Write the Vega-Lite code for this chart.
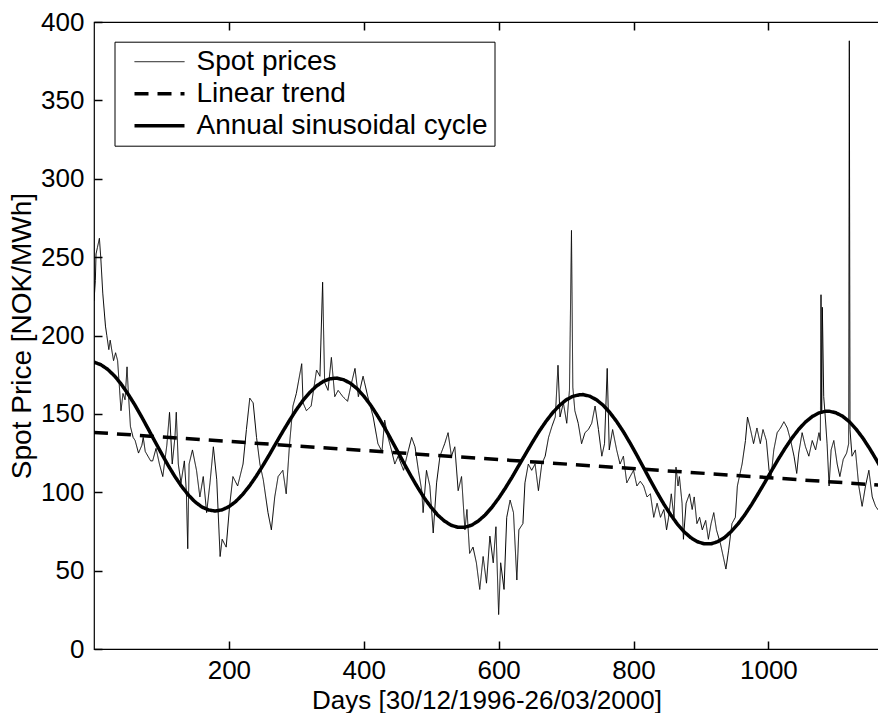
{
  "$schema": "https://vega.github.io/schema/vega-lite/v6.json",
  "width": 785,
  "height": 627,
  "autosize": {"type": "none"},
  "padding": {"left": 94, "top": 22, "right": 0, "bottom": 64},
  "background": "white",
  "config": {
    "font": "Liberation Sans",
    "view": {"stroke": "#000", "strokeWidth": 1.2},
    "axis": {
      "labelFont": "Liberation Sans", "titleFont": "Liberation Sans",
      "labelFontSize": 26, "titleFontSize": 26,
      "labelColor": "#000", "titleColor": "#000", "titleFontWeight": "normal",
      "grid": false, "domain": false, "tickColor": "#000", "tickWidth": 1.5, "tickSize": -8, "zindex": 1
    },
    "legend": {"labelFont": "Liberation Sans", "labelFontSize": 28, "labelColor": "#000"}
  },
  "resolve": {"axis": {"x": "independent"}},
  "layer": [
    {
      "data": {"values": [
        {"s":"Spot prices","d":0,"v":222},{"s":"Spot prices","d":2,"v":235},{"s":"Spot prices","d":3,"v":252},{"s":"Spot prices","d":5,"v":256},{"s":"Spot prices","d":8,"v":262},{"s":"Spot prices","d":10,"v":250},{"s":"Spot prices","d":13,"v":227},{"s":"Spot prices","d":17,"v":206},{"s":"Spot prices","d":19,"v":200},{"s":"Spot prices","d":22,"v":191},{"s":"Spot prices","d":24,"v":197},{"s":"Spot prices","d":27,"v":189},{"s":"Spot prices","d":29,"v":184},{"s":"Spot prices","d":32,"v":189},{"s":"Spot prices","d":35,"v":184},{"s":"Spot prices","d":38,"v":165},{"s":"Spot prices","d":40,"v":152},{"s":"Spot prices","d":43,"v":163},{"s":"Spot prices","d":46,"v":159},{"s":"Spot prices","d":49,"v":180},{"s":"Spot prices","d":51,"v":163},{"s":"Spot prices","d":54,"v":142},{"s":"Spot prices","d":58,"v":135},{"s":"Spot prices","d":61,"v":133},{"s":"Spot prices","d":66,"v":125},{"s":"Spot prices","d":71,"v":130},{"s":"Spot prices","d":73,"v":135},{"s":"Spot prices","d":76,"v":126},{"s":"Spot prices","d":80,"v":123},{"s":"Spot prices","d":84,"v":120},{"s":"Spot prices","d":87,"v":120},{"s":"Spot prices","d":92,"v":128},{"s":"Spot prices","d":97,"v":118},{"s":"Spot prices","d":102,"v":110},{"s":"Spot prices","d":108,"v":130},{"s":"Spot prices","d":112,"v":151},{"s":"Spot prices","d":116,"v":118},{"s":"Spot prices","d":120,"v":135},{"s":"Spot prices","d":122,"v":151},{"s":"Spot prices","d":125,"v":118},{"s":"Spot prices","d":129,"v":106},{"s":"Spot prices","d":134,"v":120},{"s":"Spot prices","d":137,"v":100},{"s":"Spot prices","d":139,"v":64},{"s":"Spot prices","d":141,"v":118},{"s":"Spot prices","d":146,"v":127},{"s":"Spot prices","d":152,"v":114},{"s":"Spot prices","d":157,"v":97},{"s":"Spot prices","d":162,"v":110},{"s":"Spot prices","d":167,"v":87},{"s":"Spot prices","d":172,"v":106},{"s":"Spot prices","d":177,"v":129},{"s":"Spot prices","d":182,"v":108},{"s":"Spot prices","d":187,"v":59},{"s":"Spot prices","d":190,"v":70},{"s":"Spot prices","d":196,"v":65},{"s":"Spot prices","d":201,"v":91},{"s":"Spot prices","d":206,"v":110},{"s":"Spot prices","d":213,"v":104},{"s":"Spot prices","d":221,"v":118},{"s":"Spot prices","d":226,"v":140},{"s":"Spot prices","d":231,"v":160},{"s":"Spot prices","d":236,"v":157},{"s":"Spot prices","d":241,"v":135},{"s":"Spot prices","d":246,"v":118},{"s":"Spot prices","d":251,"v":108},{"s":"Spot prices","d":258,"v":87},{"s":"Spot prices","d":263,"v":76},{"s":"Spot prices","d":268,"v":97},{"s":"Spot prices","d":273,"v":110},{"s":"Spot prices","d":280,"v":114},{"s":"Spot prices","d":285,"v":99},{"s":"Spot prices","d":290,"v":131},{"s":"Spot prices","d":295,"v":155},{"s":"Spot prices","d":300,"v":163},{"s":"Spot prices","d":308,"v":182},{"s":"Spot prices","d":310,"v":157},{"s":"Spot prices","d":315,"v":152},{"s":"Spot prices","d":322,"v":155},{"s":"Spot prices","d":330,"v":178},{"s":"Spot prices","d":335,"v":174},{"s":"Spot prices","d":339,"v":234},{"s":"Spot prices","d":342,"v":170},{"s":"Spot prices","d":347,"v":165},{"s":"Spot prices","d":352,"v":186},{"s":"Spot prices","d":357,"v":161},{"s":"Spot prices","d":362,"v":165},{"s":"Spot prices","d":369,"v":161},{"s":"Spot prices","d":376,"v":158},{"s":"Spot prices","d":382,"v":170},{"s":"Spot prices","d":387,"v":179},{"s":"Spot prices","d":392,"v":161},{"s":"Spot prices","d":399,"v":174},{"s":"Spot prices","d":406,"v":161},{"s":"Spot prices","d":414,"v":148},{"s":"Spot prices","d":421,"v":131},{"s":"Spot prices","d":427,"v":126},{"s":"Spot prices","d":431,"v":146},{"s":"Spot prices","d":436,"v":135},{"s":"Spot prices","d":441,"v":127},{"s":"Spot prices","d":446,"v":118},{"s":"Spot prices","d":451,"v":123},{"s":"Spot prices","d":459,"v":114},{"s":"Spot prices","d":464,"v":123},{"s":"Spot prices","d":471,"v":135},{"s":"Spot prices","d":476,"v":129},{"s":"Spot prices","d":481,"v":114},{"s":"Spot prices","d":486,"v":101},{"s":"Spot prices","d":488,"v":87},{"s":"Spot prices","d":493,"v":114},{"s":"Spot prices","d":498,"v":104},{"s":"Spot prices","d":503,"v":74},{"s":"Spot prices","d":508,"v":106},{"s":"Spot prices","d":513,"v":123},{"s":"Spot prices","d":520,"v":131},{"s":"Spot prices","d":525,"v":138},{"s":"Spot prices","d":530,"v":123},{"s":"Spot prices","d":535,"v":129},{"s":"Spot prices","d":540,"v":101},{"s":"Spot prices","d":545,"v":110},{"s":"Spot prices","d":550,"v":76},{"s":"Spot prices","d":553,"v":89},{"s":"Spot prices","d":557,"v":61},{"s":"Spot prices","d":562,"v":65},{"s":"Spot prices","d":567,"v":55},{"s":"Spot prices","d":572,"v":38},{"s":"Spot prices","d":577,"v":59},{"s":"Spot prices","d":582,"v":42},{"s":"Spot prices","d":587,"v":72},{"s":"Spot prices","d":592,"v":55},{"s":"Spot prices","d":596,"v":78},{"s":"Spot prices","d":600,"v":22},{"s":"Spot prices","d":603,"v":55},{"s":"Spot prices","d":608,"v":38},{"s":"Spot prices","d":612,"v":84},{"s":"Spot prices","d":617,"v":95},{"s":"Spot prices","d":622,"v":87},{"s":"Spot prices","d":627,"v":44},{"s":"Spot prices","d":630,"v":76},{"s":"Spot prices","d":636,"v":80},{"s":"Spot prices","d":639,"v":106},{"s":"Spot prices","d":644,"v":118},{"s":"Spot prices","d":649,"v":114},{"s":"Spot prices","d":654,"v":118},{"s":"Spot prices","d":659,"v":101},{"s":"Spot prices","d":664,"v":118},{"s":"Spot prices","d":669,"v":123},{"s":"Spot prices","d":674,"v":135},{"s":"Spot prices","d":679,"v":142},{"s":"Spot prices","d":684,"v":148},{"s":"Spot prices","d":688,"v":181},{"s":"Spot prices","d":691,"v":148},{"s":"Spot prices","d":696,"v":157},{"s":"Spot prices","d":701,"v":144},{"s":"Spot prices","d":705,"v":165},{"s":"Spot prices","d":708,"v":267},{"s":"Spot prices","d":710,"v":167},{"s":"Spot prices","d":713,"v":152},{"s":"Spot prices","d":718,"v":144},{"s":"Spot prices","d":723,"v":131},{"s":"Spot prices","d":728,"v":138},{"s":"Spot prices","d":733,"v":140},{"s":"Spot prices","d":738,"v":144},{"s":"Spot prices","d":743,"v":155},{"s":"Spot prices","d":748,"v":140},{"s":"Spot prices","d":753,"v":123},{"s":"Spot prices","d":757,"v":131},{"s":"Spot prices","d":761,"v":179},{"s":"Spot prices","d":764,"v":127},{"s":"Spot prices","d":769,"v":140},{"s":"Spot prices","d":775,"v":127},{"s":"Spot prices","d":780,"v":118},{"s":"Spot prices","d":785,"v":123},{"s":"Spot prices","d":790,"v":106},{"s":"Spot prices","d":795,"v":110},{"s":"Spot prices","d":800,"v":114},{"s":"Spot prices","d":805,"v":104},{"s":"Spot prices","d":810,"v":107},{"s":"Spot prices","d":815,"v":104},{"s":"Spot prices","d":820,"v":97},{"s":"Spot prices","d":825,"v":99},{"s":"Spot prices","d":830,"v":84},{"s":"Spot prices","d":835,"v":93},{"s":"Spot prices","d":840,"v":84},{"s":"Spot prices","d":845,"v":89},{"s":"Spot prices","d":849,"v":76},{"s":"Spot prices","d":852,"v":84},{"s":"Spot prices","d":856,"v":99},{"s":"Spot prices","d":860,"v":84},{"s":"Spot prices","d":863,"v":116},{"s":"Spot prices","d":866,"v":104},{"s":"Spot prices","d":868,"v":110},{"s":"Spot prices","d":872,"v":93},{"s":"Spot prices","d":874,"v":70},{"s":"Spot prices","d":878,"v":93},{"s":"Spot prices","d":883,"v":99},{"s":"Spot prices","d":887,"v":89},{"s":"Spot prices","d":890,"v":97},{"s":"Spot prices","d":894,"v":80},{"s":"Spot prices","d":898,"v":84},{"s":"Spot prices","d":902,"v":76},{"s":"Spot prices","d":907,"v":82},{"s":"Spot prices","d":911,"v":70},{"s":"Spot prices","d":915,"v":80},{"s":"Spot prices","d":919,"v":87},{"s":"Spot prices","d":923,"v":76},{"s":"Spot prices","d":929,"v":67},{"s":"Spot prices","d":934,"v":57},{"s":"Spot prices","d":937,"v":51},{"s":"Spot prices","d":941,"v":63},{"s":"Spot prices","d":946,"v":80},{"s":"Spot prices","d":951,"v":84},{"s":"Spot prices","d":954,"v":104},{"s":"Spot prices","d":957,"v":110},{"s":"Spot prices","d":961,"v":118},{"s":"Spot prices","d":966,"v":133},{"s":"Spot prices","d":969,"v":148},{"s":"Spot prices","d":973,"v":141},{"s":"Spot prices","d":978,"v":131},{"s":"Spot prices","d":983,"v":141},{"s":"Spot prices","d":988,"v":131},{"s":"Spot prices","d":992,"v":140},{"s":"Spot prices","d":997,"v":133},{"s":"Spot prices","d":1001,"v":114},{"s":"Spot prices","d":1004,"v":110},{"s":"Spot prices","d":1008,"v":127},{"s":"Spot prices","d":1013,"v":138},{"s":"Spot prices","d":1018,"v":141},{"s":"Spot prices","d":1023,"v":145},{"s":"Spot prices","d":1028,"v":141},{"s":"Spot prices","d":1033,"v":133},{"s":"Spot prices","d":1038,"v":123},{"s":"Spot prices","d":1042,"v":112},{"s":"Spot prices","d":1045,"v":125},{"s":"Spot prices","d":1050,"v":138},{"s":"Spot prices","d":1055,"v":129},{"s":"Spot prices","d":1060,"v":123},{"s":"Spot prices","d":1065,"v":133},{"s":"Spot prices","d":1070,"v":127},{"s":"Spot prices","d":1075,"v":138},{"s":"Spot prices","d":1077,"v":133},{"s":"Spot prices","d":1078,"v":226},{"s":"Spot prices","d":1079,"v":150},{"s":"Spot prices","d":1080,"v":218},{"s":"Spot prices","d":1082,"v":161},{"s":"Spot prices","d":1084,"v":150},{"s":"Spot prices","d":1087,"v":131},{"s":"Spot prices","d":1090,"v":104},{"s":"Spot prices","d":1093,"v":127},{"s":"Spot prices","d":1097,"v":133},{"s":"Spot prices","d":1102,"v":118},{"s":"Spot prices","d":1106,"v":110},{"s":"Spot prices","d":1111,"v":121},{"s":"Spot prices","d":1116,"v":125},{"s":"Spot prices","d":1119,"v":131},{"s":"Spot prices","d":1120,"v":388},{"s":"Spot prices","d":1121,"v":140},{"s":"Spot prices","d":1124,"v":123},{"s":"Spot prices","d":1129,"v":127},{"s":"Spot prices","d":1134,"v":104},{"s":"Spot prices","d":1139,"v":91},{"s":"Spot prices","d":1144,"v":104},{"s":"Spot prices","d":1149,"v":114},{"s":"Spot prices","d":1154,"v":97},{"s":"Spot prices","d":1159,"v":91},{"s":"Spot prices","d":1164,"v":88},{"s":"Spot prices","d":1170,"v":86},
        {"s":"Linear trend","d":0,"v":138.2},{"s":"Linear trend","d":1170,"v":104.4},
        {"s":"Annual sinusoidal cycle","d":0,"v":183.0},{"s":"Annual sinusoidal cycle","d":10,"v":181.4},{"s":"Annual sinusoidal cycle","d":20,"v":178.5},{"s":"Annual sinusoidal cycle","d":30,"v":174.4},{"s":"Annual sinusoidal cycle","d":40,"v":169.2},{"s":"Annual sinusoidal cycle","d":50,"v":163.0},{"s":"Annual sinusoidal cycle","d":60,"v":156.1},{"s":"Annual sinusoidal cycle","d":70,"v":148.6},{"s":"Annual sinusoidal cycle","d":80,"v":140.7},{"s":"Annual sinusoidal cycle","d":90,"v":132.7},{"s":"Annual sinusoidal cycle","d":100,"v":124.8},{"s":"Annual sinusoidal cycle","d":110,"v":117.1},{"s":"Annual sinusoidal cycle","d":120,"v":110.0},{"s":"Annual sinusoidal cycle","d":130,"v":103.7},{"s":"Annual sinusoidal cycle","d":140,"v":98.2},{"s":"Annual sinusoidal cycle","d":150,"v":93.8},{"s":"Annual sinusoidal cycle","d":160,"v":90.6},{"s":"Annual sinusoidal cycle","d":170,"v":88.7},{"s":"Annual sinusoidal cycle","d":180,"v":88.0},{"s":"Annual sinusoidal cycle","d":190,"v":88.8},{"s":"Annual sinusoidal cycle","d":200,"v":90.8},{"s":"Annual sinusoidal cycle","d":210,"v":94.0},{"s":"Annual sinusoidal cycle","d":220,"v":98.4},{"s":"Annual sinusoidal cycle","d":230,"v":103.7},{"s":"Annual sinusoidal cycle","d":240,"v":109.9},{"s":"Annual sinusoidal cycle","d":250,"v":116.7},{"s":"Annual sinusoidal cycle","d":260,"v":123.9},{"s":"Annual sinusoidal cycle","d":270,"v":131.4},{"s":"Annual sinusoidal cycle","d":280,"v":138.8},{"s":"Annual sinusoidal cycle","d":290,"v":145.9},{"s":"Annual sinusoidal cycle","d":300,"v":152.6},{"s":"Annual sinusoidal cycle","d":310,"v":158.6},{"s":"Annual sinusoidal cycle","d":320,"v":163.7},{"s":"Annual sinusoidal cycle","d":330,"v":167.8},{"s":"Annual sinusoidal cycle","d":340,"v":170.7},{"s":"Annual sinusoidal cycle","d":350,"v":172.4},
        {"s":"Annual sinusoidal cycle","d":360,"v":172.8},{"s":"Annual sinusoidal cycle","d":370,"v":171.8},{"s":"Annual sinusoidal cycle","d":380,"v":169.6},{"s":"Annual sinusoidal cycle","d":390,"v":166.1},{"s":"Annual sinusoidal cycle","d":400,"v":161.4},{"s":"Annual sinusoidal cycle","d":410,"v":155.7},{"s":"Annual sinusoidal cycle","d":420,"v":149.1},{"s":"Annual sinusoidal cycle","d":430,"v":141.9},{"s":"Annual sinusoidal cycle","d":440,"v":134.1},{"s":"Annual sinusoidal cycle","d":450,"v":126.2},{"s":"Annual sinusoidal cycle","d":460,"v":118.2},{"s":"Annual sinusoidal cycle","d":470,"v":110.4},{"s":"Annual sinusoidal cycle","d":480,"v":103.0},{"s":"Annual sinusoidal cycle","d":490,"v":96.2},{"s":"Annual sinusoidal cycle","d":500,"v":90.3},{"s":"Annual sinusoidal cycle","d":510,"v":85.3},{"s":"Annual sinusoidal cycle","d":520,"v":81.5},{"s":"Annual sinusoidal cycle","d":530,"v":78.9},{"s":"Annual sinusoidal cycle","d":540,"v":77.6},{"s":"Annual sinusoidal cycle","d":550,"v":77.7},{"s":"Annual sinusoidal cycle","d":560,"v":79.0},{"s":"Annual sinusoidal cycle","d":570,"v":81.7},{"s":"Annual sinusoidal cycle","d":580,"v":85.5},{"s":"Annual sinusoidal cycle","d":590,"v":90.4},{"s":"Annual sinusoidal cycle","d":600,"v":96.2},{"s":"Annual sinusoidal cycle","d":610,"v":102.7},{"s":"Annual sinusoidal cycle","d":620,"v":109.7},{"s":"Annual sinusoidal cycle","d":630,"v":117.1},{"s":"Annual sinusoidal cycle","d":640,"v":124.5},{"s":"Annual sinusoidal cycle","d":650,"v":131.8},{"s":"Annual sinusoidal cycle","d":660,"v":138.8},{"s":"Annual sinusoidal cycle","d":670,"v":145.1},{"s":"Annual sinusoidal cycle","d":680,"v":150.7},{"s":"Annual sinusoidal cycle","d":690,"v":155.3},{"s":"Annual sinusoidal cycle","d":700,"v":158.9},{"s":"Annual sinusoidal cycle","d":710,"v":161.2},{"s":"Annual sinusoidal cycle","d":720,"v":162.2},
        {"s":"Annual sinusoidal cycle","d":725,"v":162.3},{"s":"Annual sinusoidal cycle","d":735,"v":161.3},{"s":"Annual sinusoidal cycle","d":745,"v":159.0},{"s":"Annual sinusoidal cycle","d":755,"v":155.5},{"s":"Annual sinusoidal cycle","d":765,"v":150.8},{"s":"Annual sinusoidal cycle","d":775,"v":145.1},{"s":"Annual sinusoidal cycle","d":785,"v":138.6},{"s":"Annual sinusoidal cycle","d":795,"v":131.3},{"s":"Annual sinusoidal cycle","d":805,"v":123.6},{"s":"Annual sinusoidal cycle","d":815,"v":115.6},{"s":"Annual sinusoidal cycle","d":825,"v":107.6},{"s":"Annual sinusoidal cycle","d":835,"v":99.8},{"s":"Annual sinusoidal cycle","d":845,"v":92.4},{"s":"Annual sinusoidal cycle","d":855,"v":85.7},{"s":"Annual sinusoidal cycle","d":865,"v":79.7},{"s":"Annual sinusoidal cycle","d":875,"v":74.8},{"s":"Annual sinusoidal cycle","d":885,"v":71.0},{"s":"Annual sinusoidal cycle","d":895,"v":68.4},{"s":"Annual sinusoidal cycle","d":905,"v":67.1},{"s":"Annual sinusoidal cycle","d":915,"v":67.1},{"s":"Annual sinusoidal cycle","d":925,"v":68.5},{"s":"Annual sinusoidal cycle","d":935,"v":71.1},{"s":"Annual sinusoidal cycle","d":945,"v":75.0},{"s":"Annual sinusoidal cycle","d":955,"v":79.8},{"s":"Annual sinusoidal cycle","d":965,"v":85.6},{"s":"Annual sinusoidal cycle","d":975,"v":92.1},{"s":"Annual sinusoidal cycle","d":985,"v":99.2},{"s":"Annual sinusoidal cycle","d":995,"v":106.5},{"s":"Annual sinusoidal cycle","d":1005,"v":114.0},{"s":"Annual sinusoidal cycle","d":1015,"v":121.3},{"s":"Annual sinusoidal cycle","d":1025,"v":128.2},{"s":"Annual sinusoidal cycle","d":1035,"v":134.6},{"s":"Annual sinusoidal cycle","d":1045,"v":140.2},{"s":"Annual sinusoidal cycle","d":1055,"v":144.8},{"s":"Annual sinusoidal cycle","d":1065,"v":148.3},{"s":"Annual sinusoidal cycle","d":1075,"v":150.6},{"s":"Annual sinusoidal cycle","d":1085,"v":151.7},
        {"s":"Annual sinusoidal cycle","d":1090,"v":151.7},{"s":"Annual sinusoidal cycle","d":1100,"v":150.7},{"s":"Annual sinusoidal cycle","d":1110,"v":148.5},{"s":"Annual sinusoidal cycle","d":1120,"v":145.0},{"s":"Annual sinusoidal cycle","d":1130,"v":140.3},{"s":"Annual sinusoidal cycle","d":1140,"v":134.6},{"s":"Annual sinusoidal cycle","d":1150,"v":128.0},{"s":"Annual sinusoidal cycle","d":1160,"v":120.8},{"s":"Annual sinusoidal cycle","d":1170,"v":113.1}
      ]},
      "mark": {"type": "line", "clip": true},
      "encoding": {
        "x": {"field": "d", "type": "quantitative", "scale": {"domain": [0, 1164], "nice": false, "zero": false},
              "axis": {"orient": "bottom", "values": [200, 400, 600, 800, 1000], "format": "d", "title": "Days [30/12/1996-26/03/2000]", "labelPadding": 16.5, "titleY": 38}},
        "y": {"field": "v", "type": "quantitative", "scale": {"domain": [0, 400], "nice": false},
              "axis": {"values": [0, 50, 100, 150, 200, 250, 300, 350, 400], "title": "Spot Price [NOK/MWh]", "labelPadding": 18, "titleFontSize": 28}},
        "color": {"field": "s", "type": "nominal",
                  "scale": {"domain": ["Spot prices", "Linear trend", "Annual sinusoidal cycle"], "range": ["#000", "#000", "#000"]},
                  "legend": {"orient": "none", "legendX": 20.5, "legendY": 19.7, "title": null,
                             "symbolType": "M0,0H5", "symbolSize": 400, "labelLimit": 0,
                             "strokeColor": "#000", "fillColor": "#fff", "padding": 6, "labelOffset": 48, "rowPadding": 4}},
        "strokeDash": {"field": "s", "type": "nominal",
                       "scale": {"domain": ["Spot prices", "Linear trend", "Annual sinusoidal cycle"], "range": [[1, 0], [14, 9], [1, 0]]}},
        "strokeWidth": {"field": "s", "type": "nominal",
                        "scale": {"type": "ordinal", "domain": ["Spot prices", "Linear trend", "Annual sinusoidal cycle"], "range": [1, 3.5, 3.5]}}
      }
    },
    {
      "data": {"values": [{"d": 500}]},
      "mark": {"type": "point", "opacity": 0},
      "encoding": {
        "x": {"field": "d", "type": "quantitative",
              "axis": {"orient": "top", "values": [200, 400, 600, 800, 1000], "labels": false, "title": null}}
      }
    }
  ]
}
